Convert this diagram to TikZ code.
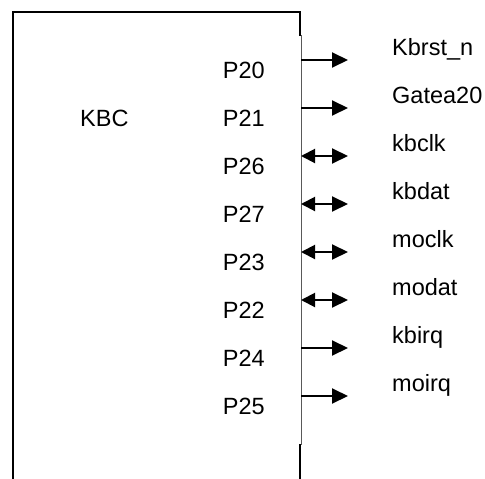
\documentclass[tikz,border=0pt]{standalone}
\usepackage{fontspec}
\setmainfont{Liberation Sans}
\usetikzlibrary{arrows.meta}

\tikzset{
  boxline/.style={line width=2pt, line cap=rect},
  pinlabel/.style={font=\fontsize{23.5}{28}\selectfont, inner sep=0pt, anchor=base east},
  siglabel/.style={font=\fontsize{23.5}{28}\selectfont, inner sep=0pt, anchor=base west},
  sigout/.style={line width=2pt, -{Triangle[length=16pt,width=15pt]}},
  sigbi/.style={line width=2pt, {Triangle[length=14pt,width=14pt]}-{Triangle[length=16pt,width=15pt]}}
}

\begin{document}
\begin{tikzpicture}[x=1pt, y=-1pt]

	\useasboundingbox (0,0) rectangle (485,479);

	% KBC block, open at the bottom
	\draw[boxline] (300,35) -- (300,12) -- (12.5,12) -- (12.5,479);
	\draw[boxline] (300,445) -- (300,479);
	\draw[gray!70!black, line width=0.8pt] (301,35) -- (301,445);

	\node[pinlabel, anchor=base west] (kbc) at (80,126) {KBC};

	\foreach \pin/\sig/\kind [count=\i from 0] in {P20/Kbrst\_n/sigout, P21/Gatea20/sigout, P26/kbclk/sigbi, P27/kbdat/sigbi, P23/moclk/sigbi, P22/modat/sigbi, P24/kbirq/sigout, P25/moirq/sigout}
	{
		\node[pinlabel] (pin\i) at (265,78+48*\i) {\pin};
		\node[siglabel] (sig\i) at (392,55+48*\i) {\sig};
		\coordinate (from\i) at (301,60+48*\i);
		\coordinate (to\i) at (348,60+48*\i);
		\draw[\kind] (from\i) -- (to\i);
	}

\end{tikzpicture}
\end{document}
